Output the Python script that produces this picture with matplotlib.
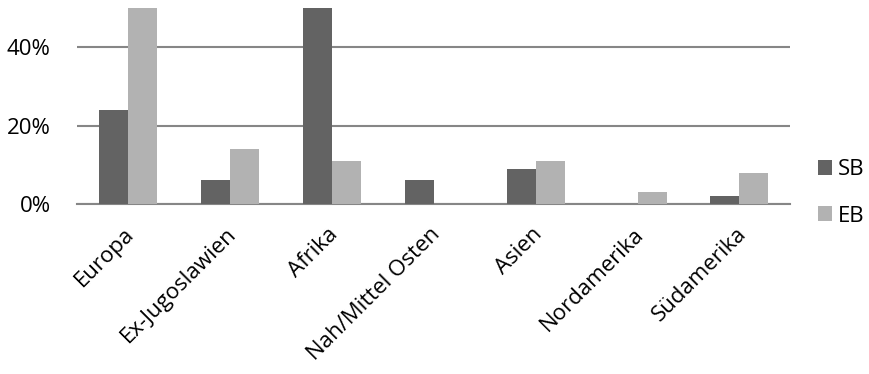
import numpy as np
import matplotlib.pyplot as plt
import matplotlib.transforms as mtransforms

plt.rcParams['font.family'] = ['Open Sans', 'DejaVu Sans']

# Data (percent)
regions = ["Europa", "Ex-Jugoslawien", "Afrika", "Nah/Mittel Osten",
           "Asien", "Nordamerika", "Südamerika"]
sb = [24, 6, 50, 6, 9, 0, 2]
eb = [50, 14, 11, 0, 11, 3, 8]

fig = plt.figure(figsize=(8.7, 3.74), dpi=100)
ax = fig.add_axes([0.0885, 0.4545, 0.82, 0.524])

x = np.arange(len(regions))
w = 0.285
ax.bar(x - w / 2, sb, w, color="#636363", label="SB", zorder=3)
ax.bar(x + w / 2, eb, w, color="#b2b2b2", label="EB", zorder=3)

ax.set_xlim(-0.5, len(regions) - 0.5)
ax.set_ylim(0, 50)
ax.set_yticks([0, 20, 40])
ax.set_yticklabels(["0%", "20%", "40%"], fontsize=16)
ax.yaxis.grid(True, color="#868686", linewidth=1.5, zorder=0)
ax.tick_params(axis="y", length=0, pad=19)

ax.set_xticks(x)
ax.set_xticklabels(regions, rotation=45, ha="right", rotation_mode="anchor", fontsize=16)
ax.tick_params(axis="x", length=0, pad=4)
shift = mtransforms.ScaledTranslation(-4 / 100, -14 / 100, fig.dpi_scale_trans)
for lab in ax.get_xticklabels():
    lab.set_transform(lab.get_transform() + shift)

for side in ["top", "right", "left"]:
    ax.spines[side].set_visible(False)
ax.spines["bottom"].set_color("#868686")
ax.spines["bottom"].set_linewidth(1.5)

ax.legend(loc="center left", bbox_to_anchor=(1.01, 0.057), frameon=False,
          fontsize=16, handlelength=0.65, handleheight=0.65,
          handletextpad=0.25, labelspacing=1.15)

fig.savefig("out.png", dpi=100)
